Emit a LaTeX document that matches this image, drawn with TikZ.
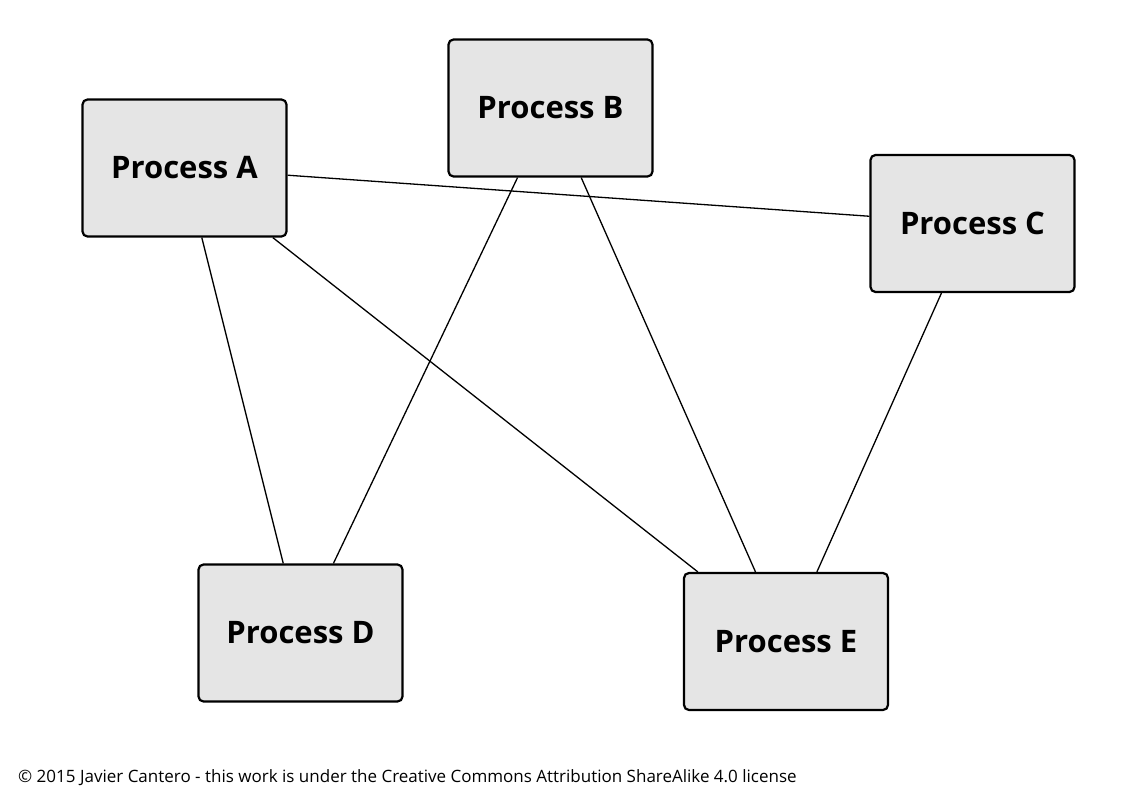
\documentclass[tikz,border=0pt]{standalone}
\usepackage{fontspec}
\setmainfont{Open Sans}
\tikzset{
    process/.style = {
        draw,
        line width = 2.2pt,
        rounded corners = 5pt,
        fill = gray!20,
        minimum width = 204pt,
        minimum height = 137pt,
        font = \fontsize{31}{37}\selectfont\bfseries,
        },
    link/.style = {
        line width = 1.3pt,
        },
}
\begin{document}
\begin{tikzpicture}[x=1pt, y=-1pt]
            \useasboundingbox[fill=white] (0,0) rectangle (1140,797);

            \node [process] (A) at (184.5,168) {Process A};
            \node [process] (B) at (550.5,108) {Process B};
            \node [process] (C) at (972.5,223.5) {Process C};
            \node [process] (D) at (300.5,633) {Process D};
            \node [process] (E) at (786,641.5) {Process E};

            \draw[link] (A) -- (C);
            \draw[link] (A) -- (D);
            \draw[link] (A) -- (E);
            \draw[link] (B) -- (D);
            \draw[link] (B) -- (E);
            \draw[link] (C) -- (E);

            \node [anchor=west, inner sep=0pt, font=\fontsize{17}{20}\selectfont] (license) at (18,778)
                {© 2015 Javier Cantero - this work is under the Creative Commons Attribution ShareAlike 4.0 license};
\end{tikzpicture}
\end{document}
